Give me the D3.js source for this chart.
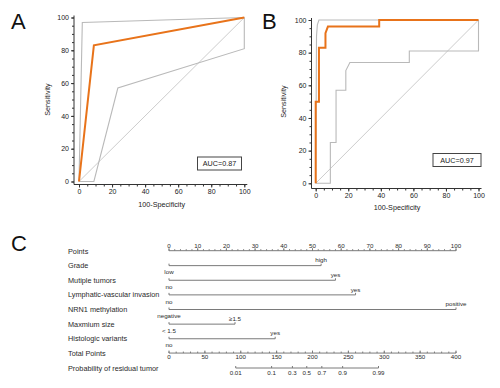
<!DOCTYPE html>
<html><head><meta charset="utf-8">
<script src="https://cdn.jsdelivr.net/npm/d3@7"></script>
<style>
html,body{margin:0;padding:0;background:#fff;}
svg{display:block;font-family:Arial,"Liberation Sans",sans-serif;}
</style></head>
<body>
<svg id="c" width="500" height="388"></svg>
<script>
// ---------- ROC data (100-Specificity, Sensitivity) ----------
const rocA_model = [[0,0],[9,83],[100,100]];
const rocA_upper = [[0,0],[2,97],[100,100]];
const rocA_lower = [[0,0],[9,0],[23.5,57],[100,81],[100,100]];
const rocA_auc = "AUC=0.87";

const rocB_model = [[0,0],[0,50],[2,50],[2,83],[6,83],[6,92],[7.5,96],[39,96],[39,100],[100,100]];
const rocB_upper = [[0,0],[0.5,90],[1,97],[2,100],[100,100]];
const rocB_lower = [[0,0],[9,0],[9,25],[12.5,25],[12.5,57],[18.5,57],[18.5,69],[21,74],[57.5,74],[57.5,81],[100,81],[100,100]];
const rocB_auc = "AUC=0.97";

const diagonal = [[0,0],[100,100]];
const rocTicks = [0,20,40,60,80,100];

// ---------- Nomogram data ----------
const nomoRows = ["Points","Grade","Mutiple tumors","Lymphatic-vascular invasion","NRN1 methylation","Maxmium size","Histologic variants","Total Points","Probability of residual tumor"];
const nomoVars = ["Grade","Mutiple tumors","Lymphatic-vascular invasion","NRN1 methylation","Maxmium size","Histologic variants"];
const nomoLevel0 = ["low","no","no","negative","< 1.5","no"];
const nomoLevel1 = ["high","yes","yes","positive","\u22651.5","yes"];
const nomoPoints = [53,58,65,100,23,37];
const pointsTicks = [0,10,20,30,40,50,60,70,80,90,100];
const totalTicks = [0,50,100,150,200,250,300,350,400];
const probLabels = ["0.01","0.1","0.3","0.5","0.7","0.9","0.99"];
const probTotal = [93,143,172,192,213,242,292];

const svg = d3.select("#c");
const ORANGE = "#e8731a", GRAY = "#b9b9b9", DIAG = "#cdcdcd", AXIS = "#333";

function rocPanel(opt){
  const x = d3.scaleLinear().domain([0,100]).range([opt.x0,opt.x1]);
  const y = d3.scaleLinear().domain([0,100]).range([opt.y0,opt.y1]);
  const g = svg.append("g");
  // axes (offset from data area like MedCalc)
  const xa = g.append("g").attr("transform",`translate(0,${opt.xAxisY})`)
    .call(d3.axisBottom(x).tickValues(rocTicks).tickSize(3).tickSizeOuter(0).tickPadding(2));
  const xm = g.append("g").attr("transform",`translate(0,${opt.xAxisY})`)
    .call(d3.axisBottom(x).tickValues(d3.range(0,101,5)).tickSize(2).tickFormat("").tickSizeOuter(0));
  const ya = g.append("g").attr("transform",`translate(${opt.yAxisX},0)`)
    .call(d3.axisLeft(y).tickValues(rocTicks).tickSize(3).tickSizeOuter(0).tickPadding(2));
  const ym = g.append("g").attr("transform",`translate(${opt.yAxisX},0)`)
    .call(d3.axisLeft(y).tickValues(d3.range(0,101,5)).tickSize(2).tickFormat("").tickSizeOuter(0));
  [xa,xm,ya,ym].forEach(a=>{
    a.selectAll("path.domain").remove();
    a.selectAll("line").attr("stroke",AXIS);
    a.selectAll("text").attr("font-size","7px").attr("fill","#222").attr("font-family","Arial,'Liberation Sans',sans-serif");
  });
  g.append("line").attr("x1",opt.yAxisX).attr("x2",x(100)+3).attr("y1",opt.xAxisY).attr("y2",opt.xAxisY).attr("stroke",AXIS);
  g.append("line").attr("x1",opt.yAxisX).attr("x2",opt.yAxisX).attr("y1",y(100)-2).attr("y2",opt.xAxisY).attr("stroke",AXIS);

  const line = d3.line().x(d=>x(d[0])).y(d=>y(d[1]));
  g.append("path").datum(diagonal).attr("d",line).attr("fill","none").attr("stroke",DIAG).attr("stroke-width",1);
  g.append("path").datum(opt.lower).attr("d",line).attr("fill","none").attr("stroke",GRAY).attr("stroke-width",1.1);
  g.append("path").datum(opt.upper).attr("d",line).attr("fill","none").attr("stroke",GRAY).attr("stroke-width",1.1);
  g.append("path").datum(opt.model).attr("d",line).attr("fill","none").attr("stroke",ORANGE).attr("stroke-width",2);

  g.append("text").attr("x",(x(0)+x(100))/2).attr("y",opt.xLabelY).attr("text-anchor","middle")
    .attr("font-size","7.2px").attr("fill","#222").text("100-Specificity");
  g.append("text").attr("transform",`translate(${opt.yLabelX},${(y(0)+y(100))/2}) rotate(-90)`)
    .attr("text-anchor","middle").attr("font-size","7.2px").attr("fill","#222").text("Sensitivity");
  g.append("rect").attr("x",opt.box[0]).attr("y",opt.box[1]).attr("width",opt.box[2]).attr("height",opt.box[3])
    .attr("fill","#fff").attr("stroke","#444").attr("stroke-width",1);
  g.append("text").attr("x",opt.box[0]+opt.box[2]/2).attr("y",opt.box[1]+opt.box[3]/2).attr("dy","0.35em")
    .attr("text-anchor","middle").attr("font-size","7.2px").attr("fill","#222").text(opt.auc);
  g.append("text").attr("x",opt.letterX).attr("y",29).attr("font-size","22px").attr("fill","#111").text(opt.letter);
}

rocPanel({x0:79,x1:244.3,y0:181.5,y1:17.5,xAxisY:184.5,yAxisX:74,xLabelY:206.5,yLabelX:49.5,
  model:rocA_model,upper:rocA_upper,lower:rocA_lower,auc:rocA_auc,box:[197.5,157,44,13],letter:"A",letterX:11});
rocPanel({x0:315.7,x1:478.5,y0:183.3,y1:20,xAxisY:188.5,yAxisX:311.5,xLabelY:209.5,yLabelX:285.5,
  model:rocB_model,upper:rocB_upper,lower:rocB_lower,auc:rocB_auc,box:[433,153.5,48,13],letter:"B",letterX:262});

// ---------- Nomogram ----------
const ng = svg.append("g");
ng.append("text").attr("x",11).attr("y",251).attr("font-size","22px").attr("fill","#111").text("C");
const rowY = d3.scalePoint().domain(nomoRows).range([251,368]);
const px = d3.scaleLinear().domain([0,100]).range([169,456]);
const tx = d3.scaleLinear().domain([0,400]).range([169,456]);
const LINE = "#7a7a7a", TXT = "#2a2a2a";

ng.selectAll("text.rowlab").data(nomoRows).join("text").attr("class","rowlab")
  .attr("x",68).attr("y",d=>rowY(d)).attr("dy","0.35em").attr("font-size","7.3px").attr("fill",TXT).text(d=>d);

// Points axis
const pY = rowY("Points") - 0.3;
ng.append("line").attr("x1",px(0)).attr("x2",px(100)).attr("y1",pY).attr("y2",pY).attr("stroke",LINE);
ng.selectAll("line.pmin").data(d3.range(0,101,2)).join("line").attr("class","pmin")
  .attr("x1",d=>px(d)).attr("x2",d=>px(d)).attr("y1",pY).attr("y2",pY-1.5).attr("stroke",LINE);
ng.selectAll("line.pmaj").data(pointsTicks).join("line").attr("class","pmaj")
  .attr("x1",d=>px(d)).attr("x2",d=>px(d)).attr("y1",pY).attr("y2",pY-2.5).attr("stroke",LINE);
ng.selectAll("text.plab").data(pointsTicks).join("text").attr("class","plab")
  .attr("x",d=>px(d)).attr("y",pY-5).attr("dy","0.35em").attr("text-anchor","middle")
  .attr("font-size","6.2px").attr("fill",TXT).text(d=>d);

// variable rows
nomoVars.forEach((v,i)=>{
  const y = rowY(v);
  ng.append("line").attr("x1",px(0)).attr("x2",px(nomoPoints[i])).attr("y1",y).attr("y2",y).attr("stroke",LINE);
  [0,nomoPoints[i]].forEach(p=>ng.append("line").attr("x1",px(p)).attr("x2",px(p)).attr("y1",y).attr("y2",y-2).attr("stroke",LINE));
  ng.append("text").attr("x",px(0)).attr("y",y+6.5).attr("dy","0.35em").attr("text-anchor","middle")
    .attr("font-size","6.2px").attr("fill",TXT).text(nomoLevel0[i]);
  ng.append("text").attr("x",px(nomoPoints[i])).attr("y",y-5.5).attr("dy","0.35em").attr("text-anchor","middle")
    .attr("font-size","6.2px").attr("fill",TXT).text(nomoLevel1[i]);
});

// Total points axis
const tY = rowY("Total Points") - 0.3;
ng.append("line").attr("x1",tx(0)).attr("x2",tx(400)).attr("y1",tY).attr("y2",tY).attr("stroke",LINE);
ng.selectAll("line.tmin").data(d3.range(0,401,10)).join("line").attr("class","tmin")
  .attr("x1",d=>tx(d)).attr("x2",d=>tx(d)).attr("y1",tY).attr("y2",tY-1.5).attr("stroke",LINE);
ng.selectAll("line.tmaj").data(totalTicks).join("line").attr("class","tmaj")
  .attr("x1",d=>tx(d)).attr("x2",d=>tx(d)).attr("y1",tY).attr("y2",tY-2.5).attr("stroke",LINE);
ng.selectAll("text.tlab").data(totalTicks).join("text").attr("class","tlab")
  .attr("x",d=>tx(d)).attr("y",tY+4.2).attr("dy","0.35em").attr("text-anchor","middle")
  .attr("font-size","6.2px").attr("fill",TXT).text(d=>d);

// Probability axis
const rY = rowY("Probability of residual tumor");
ng.append("line").attr("x1",tx(probTotal[0])).attr("x2",tx(probTotal[probTotal.length-1])).attr("y1",rY).attr("y2",rY).attr("stroke",LINE);
ng.selectAll("line.rmaj").data(probTotal).join("line").attr("class","rmaj")
  .attr("x1",d=>tx(d)).attr("x2",d=>tx(d)).attr("y1",rY).attr("y2",rY-2).attr("stroke",LINE);
ng.selectAll("text.rlab").data(probTotal).join("text").attr("class","rlab")
  .attr("x",d=>tx(d)).attr("y",rY+4.5).attr("dy","0.35em").attr("text-anchor","middle")
  .attr("font-size","6.2px").attr("fill",TXT).text((d,i)=>probLabels[i]);
</script>
</body></html>
